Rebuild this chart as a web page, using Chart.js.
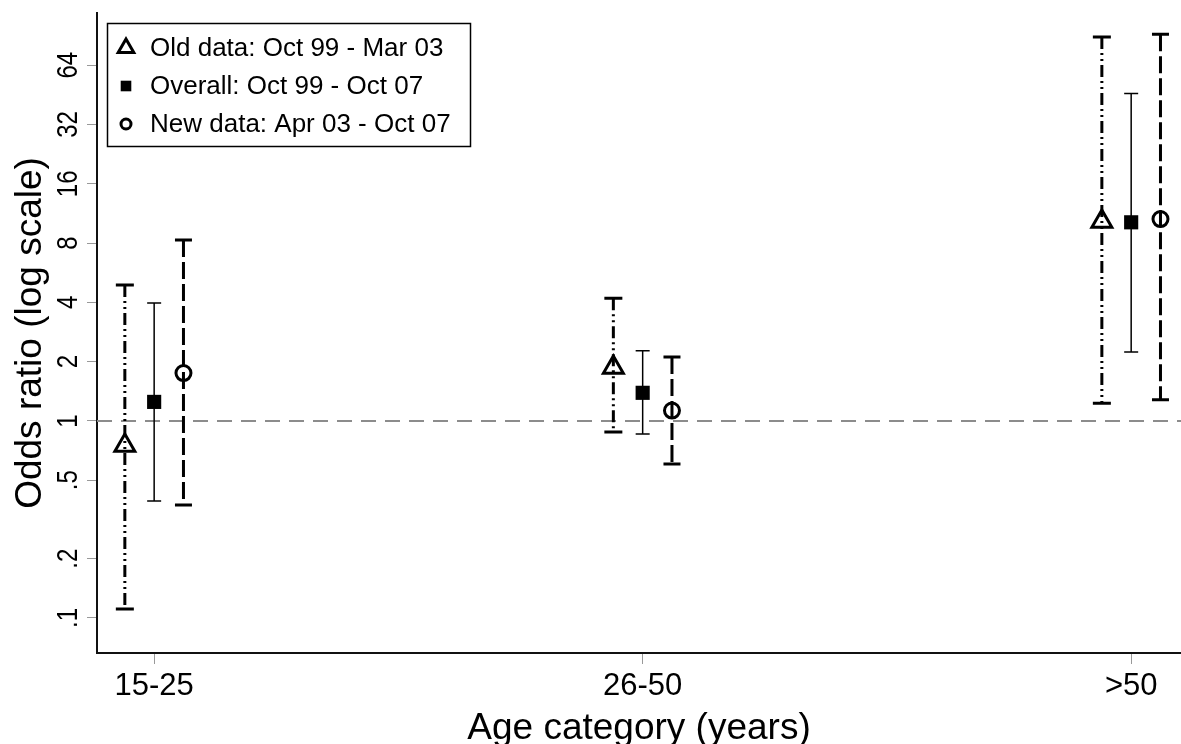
<!DOCTYPE html>
<html>
<head>
<meta charset="utf-8">
<script src="https://cdn.jsdelivr.net/npm/chart.js@4.4.0/dist/chart.umd.min.js"></script>
<style>
  html, body { margin: 0; padding: 0; background: #fff; }
  #wrap { width: 1181px; height: 744px; }
</style>
</head>
<body>
<div id="wrap"><canvas id="chart"></canvas></div>
<script>
// age groups along the x axis
var categories = ['15-25', '26-50', '>50'];
var groupPos = [1, 2, 3];

// odds ratios with lower / upper confidence limits
var seriesNames = ['Old data: Oct 99 - Mar 03', 'Overall: Oct 99 - Oct 07', 'New data: Apr 03 - Oct 07'];
var oldOR = [0.75, 1.87, 10.3];
var oldLow = [0.111, 0.88, 1.23];
var oldHigh = [4.9, 4.2, 89];
var overallOR = [1.25, 1.39, 10.2];
var overallLow = [0.393, 0.86, 2.24];
var overallHigh = [3.97, 2.27, 46];
var newOR = [1.75, 1.13, 10.6];
var newLow = [0.375, 0.605, 1.28];
var newHigh = [8.3, 2.11, 92];

// y axis ticks (log scale)
var yTicks = [0.1, 0.2, 0.5, 1, 2, 4, 8, 16, 32, 64];
var yTickLabels = ['.1', '.2', '.5', '1', '2', '4', '8', '16', '32', '64'];
var refValue = 1;

// axis range
var xMin = 0.883, xMax = 3.102;
var yMin = 0.0664, yMax = 117.8;

// dodge within a group, and the line style of each series
var dodge = [-0.06, 0, 0.06];
var styles = [
  { pointStyle: 'triangle', radius: 11.5, fill: 'rgba(0,0,0,0)', width: 3, dash: [12, 4, 2, 4, 2, 4], cap: 9, legendRadius: 9 },
  { pointStyle: 'rect', radius: 10, fill: '#000', width: 1.5, dash: [], cap: 7, legendRadius: 7.5 },
  { pointStyle: 'circle', radius: 7.5, fill: 'rgba(0,0,0,0)', width: 3, dash: [17, 5], cap: 8.5, legendRadius: 5 }
];

var FONT = "'Liberation Sans', Arial, sans-serif";
var ORs = [oldOR, overallOR, newOR];
var lows = [oldLow, overallLow, newLow];
var highs = [oldHigh, overallHigh, newHigh];

function points(k) {
  return groupPos.map(function (g, i) { return { x: g + dodge[k], y: ORs[k][i] }; });
}

var datasets = [{
  type: 'line',
  label: 'ref',
  data: [{ x: xMin, y: refValue }, { x: xMax, y: refValue }],
  borderColor: '#8c8c8c',
  borderWidth: 2,
  borderDash: [15, 9],
  pointRadius: 0,
  order: 10
}];
styles.forEach(function (s, k) {
  datasets.push({
    type: 'scatter',
    label: seriesNames[k],
    data: points(k),
    pointStyle: s.pointStyle,
    pointRadius: s.radius,
    pointHoverRadius: s.radius,
    pointBackgroundColor: s.fill,
    pointBorderColor: '#000',
    pointBorderWidth: s.pointStyle === 'rect' ? 0 : 3,
    order: 1
  });
});

// draws the confidence intervals right after the reference line
var errorBars = {
  id: 'errorBars',
  afterDatasetDraw: function (chart, args) {
    if (args.index !== 0) return;
    var ctx = chart.ctx, xs = chart.scales.x, ys = chart.scales.y;
    ctx.save();
    ctx.strokeStyle = '#000';
    styles.forEach(function (s, k) {
      groupPos.forEach(function (g, i) {
        var x = xs.getPixelForValue(g + dodge[k]);
        var y1 = ys.getPixelForValue(lows[k][i]);
        var y2 = ys.getPixelForValue(highs[k][i]);
        ctx.lineWidth = s.width;
        ctx.setLineDash(s.dash);
        ctx.beginPath();
        ctx.moveTo(x, y2);
        ctx.lineTo(x, y1);
        ctx.stroke();
        ctx.setLineDash([]);
        ctx.beginPath();
        ctx.moveTo(x - s.cap, y1); ctx.lineTo(x + s.cap, y1);
        ctx.moveTo(x - s.cap, y2); ctx.lineTo(x + s.cap, y2);
        ctx.stroke();
      });
    });
    ctx.restore();
  }
};

// rotated y tick labels and the boxed legend
var extras = {
  id: 'extras',
  afterDraw: function (chart) {
    var ctx = chart.ctx, ys = chart.scales.y;
    ctx.save();
    ctx.fillStyle = '#000';
    ctx.font = '24px ' + FONT;
    ctx.textAlign = 'center';
    ctx.textBaseline = 'middle';
    yTicks.forEach(function (v, i) {
      ctx.save();
      ctx.translate(69, ys.getPixelForValue(v));
      ctx.rotate(-Math.PI / 2);
      ctx.scale(1, 1.22); // the original labels are drawn taller than wide
      ctx.fillText(yTickLabels[i], 0, 0);
      ctx.restore();
    });

    // legend
    var bx = 107, by = 23, bw = 363, bh = 123;
    ctx.fillStyle = '#fff';
    ctx.fillRect(bx, by, bw, bh);
    ctx.strokeStyle = '#000';
    ctx.lineWidth = 1.5;
    ctx.strokeRect(bx + 0.5, by + 0.5, bw, bh);
    var rows = [48, 86, 124];
    ctx.font = '26px ' + FONT;
    ctx.textAlign = 'left';
    styles.forEach(function (s, k) {
      ctx.fillStyle = s.fill;
      ctx.strokeStyle = '#000';
      ctx.lineWidth = 3;
      Chart.helpers.drawPoint(ctx, {
        pointStyle: s.pointStyle,
        radius: s.legendRadius,
        rotation: 0,
        borderWidth: s.pointStyle === 'rect' ? 0 : 3
      }, 126, rows[k]);
      ctx.fillStyle = '#000';
      ctx.fillText(seriesNames[k], 150, rows[k] + 1);
    });
    ctx.restore();
  }
};

new Chart(document.getElementById('chart'), {
  data: { datasets: datasets },
  plugins: [errorBars, extras],
  options: {
    responsive: true,
    maintainAspectRatio: false,
    animation: false,
    devicePixelRatio: 1,
    layout: { autoPadding: false, padding: { top: 13, right: 0, left: 0, bottom: 0 } },
    plugins: { legend: { display: false }, tooltip: { enabled: false } },
    scales: {
      x: {
        type: 'linear',
        position: 'bottom',
        min: xMin,
        max: xMax,
        bounds: 'data',
        afterFit: function (s) { s.height = 91; s.paddingLeft = 0; s.paddingRight = 0; },
        afterBuildTicks: function (s) { s.ticks = groupPos.map(function (v) { return { value: v }; }); },
        ticks: {
          autoSkip: false,
          maxRotation: 0,
          color: '#000',
          padding: 4,
          font: { family: FONT, size: 31 },
          callback: function (v) { return categories[groupPos.indexOf(v)]; }
        },
        grid: { drawOnChartArea: false, tickLength: 11, color: '#999', lineWidth: 1 },
        border: { color: '#111', width: 2 },
        title: {
          display: true,
          text: 'Age category (years)',
          color: '#000',
          padding: 0,
          font: { family: FONT, size: 37, lineHeight: 0.8 }
        }
      },
      y: {
        type: 'logarithmic',
        position: 'left',
        min: yMin,
        max: yMax,
        bounds: 'data',
        afterFit: function (s) { s.width = 97; s.paddingTop = 0; s.paddingBottom = 0; },
        afterBuildTicks: function (s) { s.ticks = yTicks.map(function (v) { return { value: v }; }); },
        ticks: { display: false },
        grid: { drawOnChartArea: false, tickLength: 10, color: '#999', lineWidth: 1 },
        border: { color: '#111', width: 2 },
        title: {
          display: true,
          text: 'Odds ratio (log scale)',
          color: '#000',
          padding: { top: 9, bottom: 0 },
          font: { family: FONT, size: 37, lineHeight: 1.2 }
        }
      }
    }
  }
});
</script>
</body>
</html>
